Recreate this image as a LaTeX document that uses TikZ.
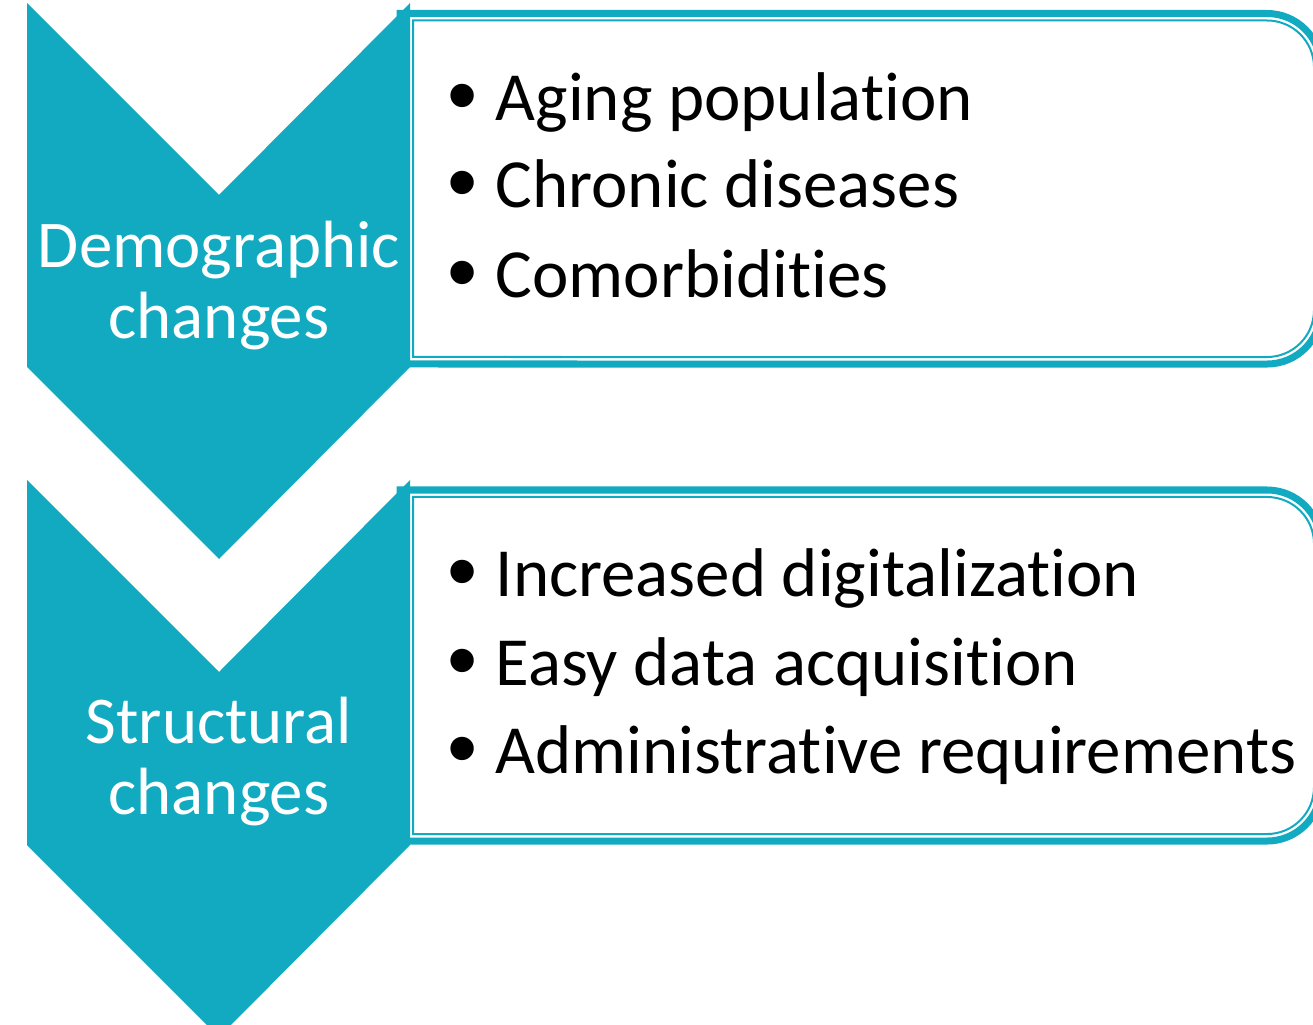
\documentclass[tikz,border=0pt]{standalone}
\usepackage{fontspec}
\setmainfont{Carlito}[Ligatures={NoCommon,NoContextual}]
\newfontfamily\bulletfont{Liberation Sans}
\usepackage{xcolor}
\usetikzlibrary{positioning,calc}
\definecolor{chevteal}{RGB}{18,170,192}

\newcommand{\itembullet}{\makebox[0.48cm][l]{\raisebox{-0.04cm}{\scalebox{1.25}{\bulletfont\textbullet}}}}

\begin{document}
\begin{tikzpicture}[
    x=0.01cm, y=0.01cm,
    chevron/.style={fill=chevteal, draw=none},
    outerline/.style={draw=chevteal, line width=0.07cm},
    innerline/.style={draw=chevteal, line width=0.02cm},
    headtext/.style={text=white, font=\fontsize{19}{20.2}\selectfont, align=center, inner sep=0pt},
    itemtext/.style={anchor=base west, font=\fontsize{19.6}{24}\selectfont, inner sep=0pt}
]
    \useasboundingbox (0,0) rectangle (1313,1024);
    \clip (0,0) rectangle (1313,1024);

    % --- List Boxes ---
    % Upper box
    \draw[outerline] (400,1010.5) -- (1267,1010.5) arc[start angle=90, end angle=0, radius=0.54cm]
        -- (1321,714) arc[start angle=0, end angle=-90, radius=0.54cm] -- (400,660) -- cycle;
    \draw[innerline] (413,1003.5) -- (1267,1003.5) arc[start angle=90, end angle=0, radius=0.47cm]
        -- (1314,714) arc[start angle=0, end angle=-90, radius=0.47cm] -- (413,667) -- cycle;

    % Lower box
    \draw[outerline] (400,534) -- (1267,534) arc[start angle=90, end angle=0, radius=0.54cm]
        -- (1321,237) arc[start angle=0, end angle=-90, radius=0.54cm] -- (400,183) -- cycle;
    \draw[innerline] (413,527) -- (1267,527) arc[start angle=90, end angle=0, radius=0.47cm]
        -- (1314,237) arc[start angle=0, end angle=-90, radius=0.47cm] -- (413,190) -- cycle;

    % --- Chevrons ---
    \fill[chevron] (27,1021) -- (219,829) -- (410,1021) -- (410,657) -- (219,465) -- (27,657) -- cycle;
    \fill[chevron] (27,544) -- (219,352) -- (410,544) -- (410,179) -- (219,-13) -- (27,179) -- cycle;

    \node[headtext] (demo) at (219,738) {Demographic\\changes};
    \node[headtext] (struct) at (219,262) {Structural\\changes};

    % --- Items ---
    \node[itemtext] (aging) at (447,903) {\itembullet Aging population};
    \node[itemtext] (chronic) at (447,816) {\itembullet Chronic diseases};
    \node[itemtext] (comorb) at (447,726) {\itembullet Comorbidities};

    \node[itemtext] (digital) at (447,428) {\itembullet Increased digitalization};
    \node[itemtext] (easydata) at (447,339) {\itembullet Easy data acquisition};
    \node[itemtext] (admin) at (447,251) {\itembullet Administrative requirements};

\end{tikzpicture}
\end{document}
